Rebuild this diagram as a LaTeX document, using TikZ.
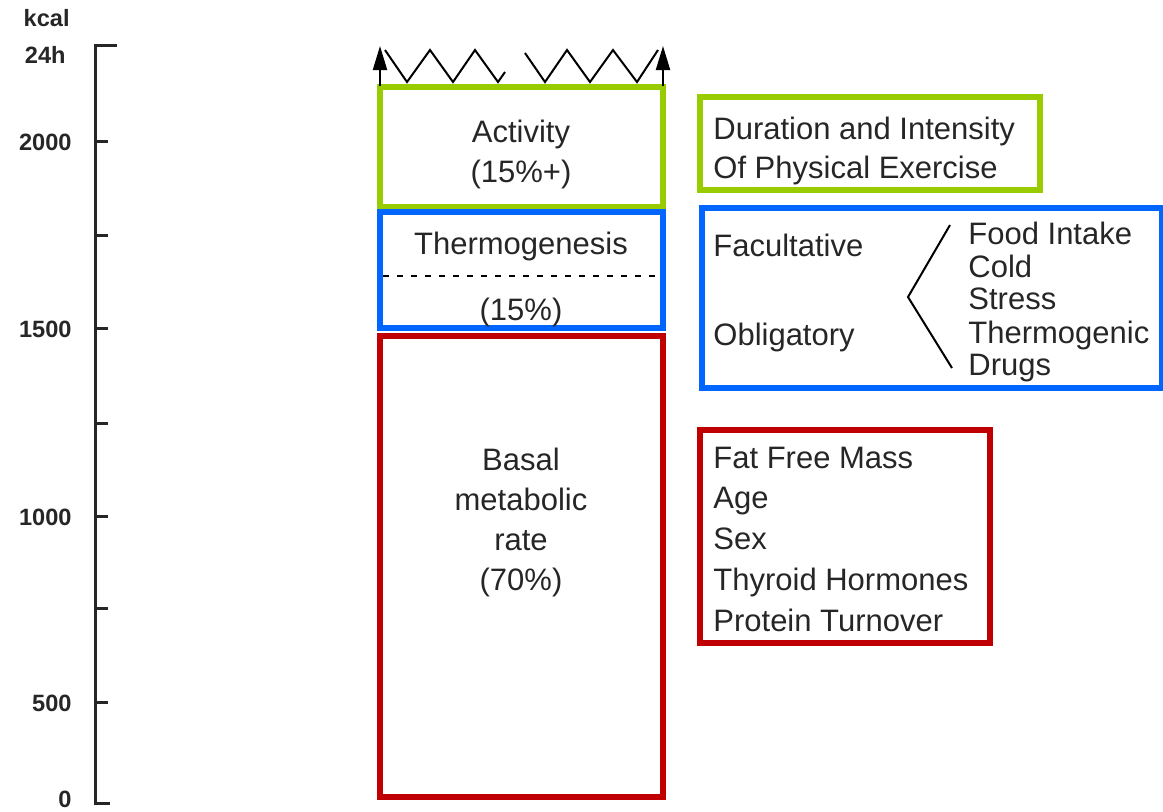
\documentclass[tikz,border=0pt]{standalone}
\usepackage{fontspec}
\setmainfont{Liberation Sans}
\usetikzlibrary{arrows.meta}
\definecolor{actgreen}{RGB}{153,204,0}
\definecolor{thermblue}{RGB}{0,102,255}
\definecolor{basalred}{RGB}{192,0,0}
\tikzset{
  axisline/.style={line width=1.5pt, color=black!85},
  boxline/.style={line width=2.6pt},
  txt/.style={inner sep=0pt, font=\fontsize{15.5}{18}\selectfont, text=black!85},
  lbl/.style={txt, anchor=base west},
  ctr/.style={txt, anchor=base},
  ax/.style={inner sep=0pt, anchor=base east, font=\bfseries\fontsize{11.8}{14}\selectfont, text=black!85},
  uparrow/.style={-{Triangle[length=12pt,width=7pt]}, line width=1pt},
  zig/.style={line width=1pt, line join=miter}
}

\begin{document}
\begin{tikzpicture}[x=0.5pt, y=-0.5pt]
    \useasboundingbox (0,0) rectangle (1163,811);
    % axis
    \coordinate (atop) at (95,45);
    \coordinate (abot) at (95,803);
    \draw[axisline] (117,45) -- (atop) -- (abot) -- (110,803);
    \foreach \y in {141,235,328,423,516,608,702}
      \draw[axisline] (95,\y) -- (108,\y);
    \node[ax] (kcal) at (70,26) {kcal};
    \node[ax] (unit) at (66,63) {24h};
    \node[ax] (t2000) at (72,150) {2000};
    \node[ax] (t1500) at (72,337) {1500};
    \node[ax] (t1000) at (72,525) {1000};
    \node[ax] (t500) at (72,711) {500};
    \node[ax] (t0) at (72,807) {0};
    % energy boxes
    \draw[boxline, actgreen] (380,87) rectangle (663,207);
    \draw[boxline, thermblue] (380,212) rectangle (663,328);
    \draw[boxline, basalred] (380,336) rectangle (663,797);
    \draw[dashed, dash pattern=on 3pt off 4pt, line width=0.6pt] (383,276) -- (660,276);
    \node[ctr] (act) at (521,142) {Activity};
    \node[ctr] (actp) at (521,182) {(15\%+)};
    \node[ctr] (therm) at (521,254) {Thermogenesis};
    \node[ctr] (thermp) at (521,320) {(15\%)};
    \node[ctr] (bmr1) at (521,470) {Basal};
    \node[ctr] (bmr2) at (521,510) {metabolic};
    \node[ctr] (bmr3) at (521,550) {rate};
    \node[ctr] (bmrp) at (521,590) {(70\%)};
    % open top
    \coordinate (la) at (380,86);
    \coordinate (lt) at (380,46);
    \coordinate (ra) at (663,86);
    \coordinate (rt) at (663,46);
    \draw[uparrow] (la) -- (lt);
    \draw[uparrow] (ra) -- (rt);
    \draw[zig] (385,50) -- (407,82) -- (430,50) -- (453,82) -- (475,50) -- (498,82) -- (505,72);
    \draw[zig] (525,53) -- (545,82) -- (567,50) -- (590,82) -- (613,50) -- (637,82) -- (658,50);
    % factor boxes
    \draw[boxline, actgreen] (700,97) rectangle (1040,190);
    \node[lbl] (dur1) at (713,139) {Duration and Intensity};
    \node[lbl] (dur2) at (713,178) {Of Physical Exercise};
    \draw[boxline, thermblue] (702,208) rectangle (1162,388);
    \node[lbl] (fac) at (713,256) {Facultative};
    \node[lbl] (obl) at (713,345) {Obligatory};
    \draw[line width=1pt] (950,225) -- (908,297) -- (952,368);
    \node[lbl] (food) at (968,244) {Food Intake};
    \node[lbl] (cold) at (968,277) {Cold};
    \node[lbl] (stress) at (968,309) {Stress};
    \node[lbl] (tgen) at (968,343) {Thermogenic};
    \node[lbl] (drugs) at (968,375) {Drugs};
    \draw[boxline, basalred] (700,430) rectangle (990,643);
    \node[lbl] (ffm) at (713,468) {Fat Free Mass};
    \node[lbl] (age) at (713,508) {Age};
    \node[lbl] (sex) at (713,549) {Sex};
    \node[lbl] (thy) at (713,590) {Thyroid Hormones};
    \node[lbl] (prot) at (713,631) {Protein Turnover};
\end{tikzpicture}
\end{document}
